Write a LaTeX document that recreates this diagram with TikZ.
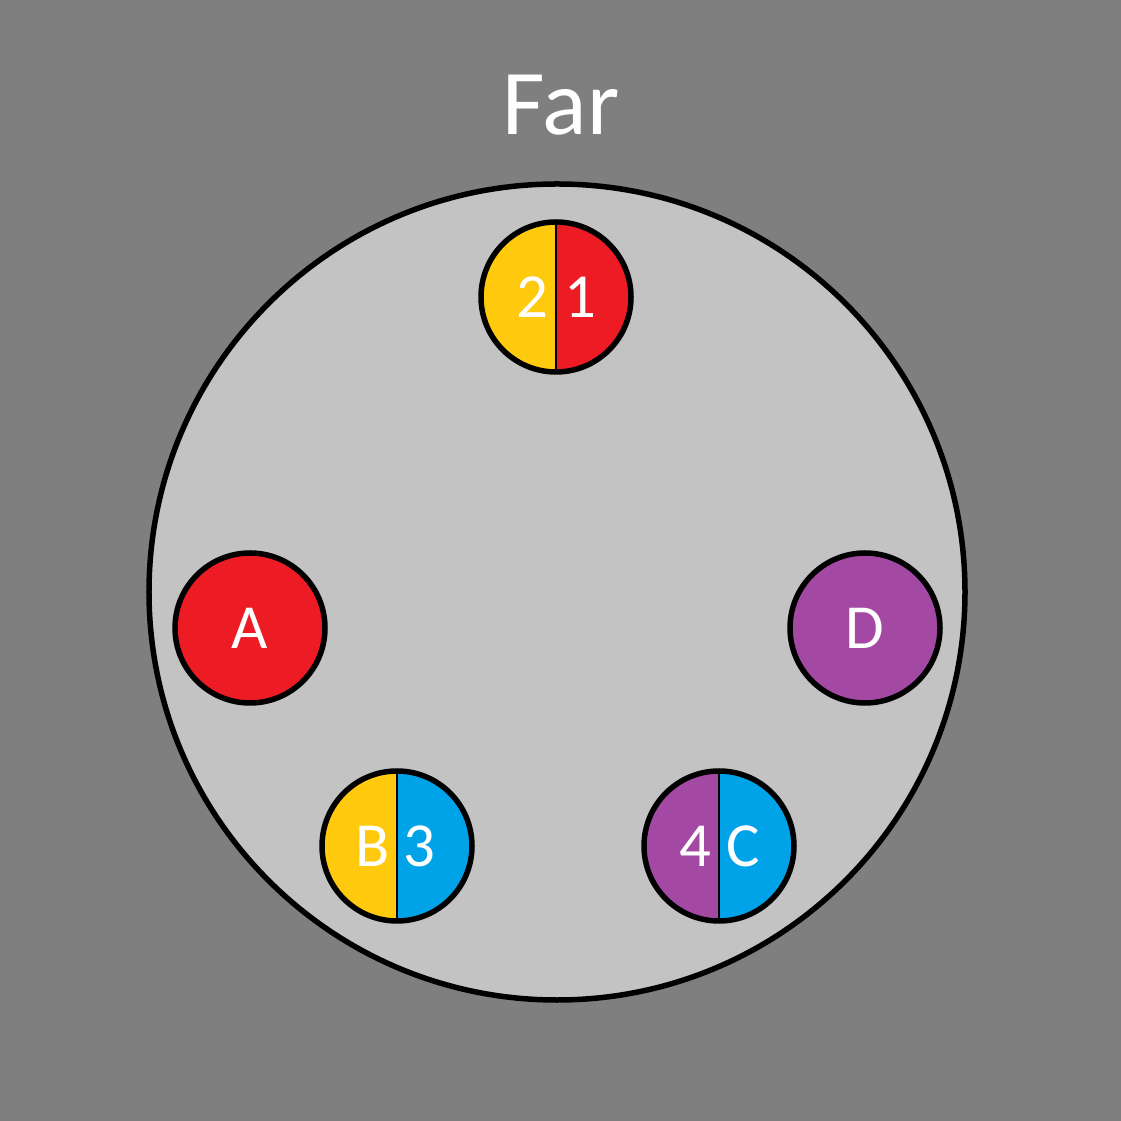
\documentclass[tikz,border=0pt]{standalone}
\usepackage{fontspec}
\setmainfont{Carlito}
\definecolor{bggray}{HTML}{7F7F7F}
\definecolor{facegray}{HTML}{C3C3C3}
\definecolor{pinyellow}{HTML}{FFC90E}
\definecolor{pinred}{HTML}{ED1C24}
\definecolor{pinpurple}{HTML}{A349A4}
\definecolor{pinblue}{HTML}{00A2E8}
\tikzset{
  pin/.style={circle,draw=black,line width=5.5bp,minimum size=150bp,inner sep=0pt},
  splitpin/.style 2 args={pin,path picture={
    \fill[#1] (path picture bounding box.south west) rectangle (path picture bounding box.north);
    \fill[#2] (path picture bounding box.south) rectangle (path picture bounding box.north east);
    \draw[black,line width=1.3bp] (path picture bounding box.south) -- (path picture bounding box.north);}},
  pinlabel/.style={text=white,inner sep=0pt,font=\fontsize{63}{70}\selectfont},
}
\begin{document}
\begin{tikzpicture}[x=1bp,y=1bp]
  \path[use as bounding box] (0,0) rectangle (1121,1121);
  \fill[bggray] (0,0) rectangle (1121,1121);

  \node[text=white,anchor=base,inner sep=0pt,font=\fontsize{93}{100}\selectfont] (far) at (561,986) {Far};

  \node[circle,fill=facegray,draw=black,line width=5.5bp,minimum size=816bp,inner sep=0pt] (face) at (557,529) {};

  \node[splitpin={pinyellow}{pinred}] (top) at (556,824) {};
  \node[pin,fill=pinred] (pinA) at (250,493) {};
  \node[pin,fill=pinpurple] (pinD) at (865,493) {};
  \node[splitpin={pinyellow}{pinblue}] (botleft) at (397,275) {};
  \node[splitpin={pinpurple}{pinblue}] (botright) at (719,275) {};

  \node[pinlabel] (lbltwo) at ([xshift=-24bp]top) {2};
  \node[pinlabel] (lblone) at ([xshift=24bp]top) {1};
  \node[pinlabel] (lblA) at (pinA) {A};
  \node[pinlabel] (lblD) at (pinD) {D};
  \node[pinlabel] (lblB) at ([xshift=-24bp]botleft) {B};
  \node[pinlabel] (lblthree) at ([xshift=22bp]botleft) {3};
  \node[pinlabel] (lblfour) at ([xshift=-24bp]botright) {4};
  \node[pinlabel] (lblC) at ([xshift=24bp]botright) {C};
\end{tikzpicture}
\end{document}
